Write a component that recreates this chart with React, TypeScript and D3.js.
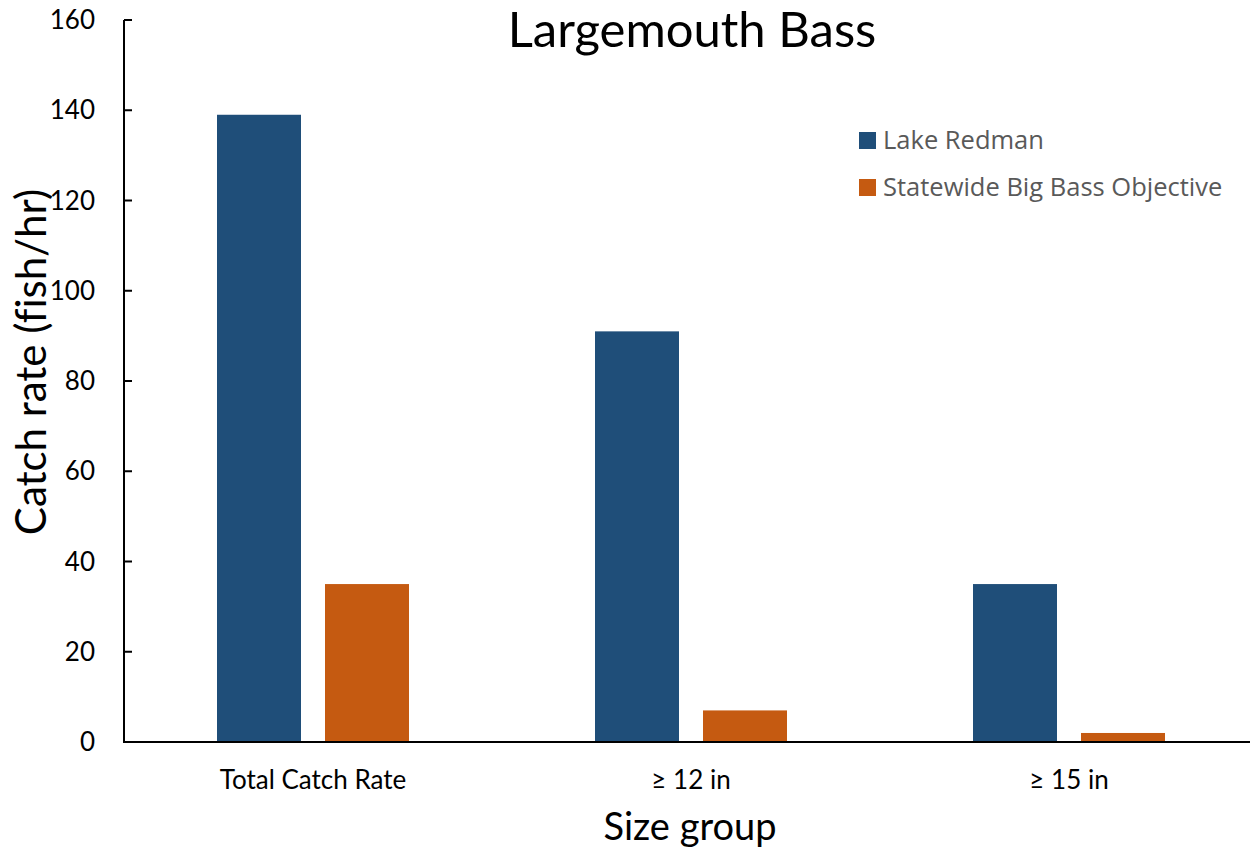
import * as d3 from 'd3';
import React from 'react';

const categories = ['Total Catch Rate', '\u2265 12 in', '\u2265 15 in'];
const seriesNames = ['Lake Redman', 'Statewide Big Bass Objective'];
const lakeRedman = [139, 91, 35];
const statewide = [35, 7, 2];
const yTicks = [0, 20, 40, 60, 80, 100, 120, 140, 160];
const colors = ['#1F4E79', '#C55A11'];

export default function App() {
  const ref = React.useRef<SVGSVGElement>(null);
  const width = 1250;
  const height = 850;

  React.useEffect(() => {
    if (!ref.current) return;
    const svg = d3.select(ref.current);
    svg.selectAll('*').remove();

    // plot area runs slightly past the right edge of the picture
    const left = 124, right = 1258, top = 20, bottom = 742;
    const font = 'Lato, "Open Sans", sans-serif';

    const x = d3.scaleBand<string>().domain(categories).range([left, right]);
    const inner = d3.scaleBand<string>().domain(seriesNames).range([0, 192]).paddingInner(24 / 108);
    const y = d3.scaleLinear().domain([0, 160]).range([bottom, top]);

    const rows = categories.map((c, i) => ({ c, vals: [lakeRedman[i], statewide[i]] }));

    // bars
    rows.forEach((r) => {
      const gx = (x(r.c) ?? 0) + x.bandwidth() / 2 - 96;
      r.vals.forEach((v, j) => {
        svg.append('rect')
          .attr('x', gx + (inner(seriesNames[j]) ?? 0))
          .attr('y', y(v))
          .attr('width', inner.bandwidth())
          .attr('height', y(0) - y(v))
          .attr('fill', colors[j]);
      });
    });

    // y axis
    svg.append('line').attr('x1', left).attr('x2', left).attr('y1', top).attr('y2', bottom)
      .attr('stroke', '#000').attr('stroke-width', 2);
    yTicks.forEach((t) => {
      svg.append('line').attr('x1', left).attr('x2', left + 8).attr('y1', y(t)).attr('y2', y(t))
        .attr('stroke', '#000').attr('stroke-width', 2);
      svg.append('text').attr('x', 95).attr('y', y(t)).attr('dy', '0.35em')
        .attr('text-anchor', 'end').attr('font-family', font).attr('font-size', 26).attr('fill', '#000')
        .text(t);
    });

    // x axis
    svg.append('line').attr('x1', left - 1).attr('x2', right).attr('y1', bottom).attr('y2', bottom)
      .attr('stroke', '#000').attr('stroke-width', 2);
    categories.forEach((c) => {
      svg.append('text').attr('x', (x(c) ?? 0) + x.bandwidth() / 2).attr('y', 789)
        .attr('text-anchor', 'middle').attr('font-family', font).attr('font-size', 26).attr('fill', '#000')
        .text(c);
    });

    // titles
    svg.append('text').attr('x', 692).attr('y', 47).attr('text-anchor', 'middle')
      .attr('font-family', font).attr('font-size', 49).attr('fill', '#000').text('Largemouth Bass');
    svg.append('text').attr('x', 690).attr('y', 840).attr('text-anchor', 'middle')
      .attr('font-family', font).attr('font-size', 38).attr('fill', '#000').text('Size group');
    svg.append('text').attr('transform', 'translate(46,362) rotate(-90)').attr('text-anchor', 'middle')
      .attr('font-family', font).attr('font-size', 42).attr('fill', '#000')
      .style('font-variant-ligatures', 'none').text('Catch rate (fish/hr)');

    // legend
    seriesNames.forEach((s, i) => {
      const ly = 132 + i * 47;
      svg.append('rect').attr('x', 859).attr('y', ly).attr('width', 17).attr('height', 17).attr('fill', colors[i]);
      svg.append('text').attr('x', 883).attr('y', ly + 17)
        .attr('font-family', '"Open Sans", sans-serif').attr('font-size', 25.5).attr('fill', '#595959').text(s);
    });
  }, []);

  return <svg ref={ref} width={width} height={height} style={{ position: 'absolute', left: 0, top: 0 }} />;
}
